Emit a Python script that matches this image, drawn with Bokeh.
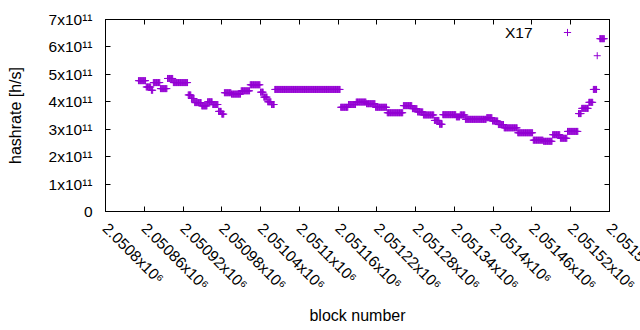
import numpy as np
from bokeh.plotting import figure
from bokeh.models import (Range1d, FixedTicker, LinearAxis, Label, Legend,
                          LegendItem, CustomJSTickFormatter)
from bokeh.embed import file_html
from bokeh.resources import INLINE

# ---- data: runs of blocks sharing one hashrate estimate (value in units of 1e11 h/s)
run_first = [2050851, 2050863, 2050871, 2050874, 2050885, 2050896, 2050905, 2050928, 2050933,
             2050938, 2050949, 2050958, 2050966, 2050975, 2050980, 2050984, 2050995, 2051010,
             2051024, 2051040, 2051045, 2051051, 2051057, 2051062, 2051164, 2051176, 2051188,
             2051204, 2051218, 2051236, 2051261, 2051275, 2051283, 2051292, 2051309, 2051317,
             2051322, 2051343, 2051349, 2051357, 2051390, 2051399, 2051408, 2051417, 2051438,
             2051462, 2051478, 2051492, 2051504, 2051515, 2051532, 2051537, 2051548, 2051555,
             2051561, 2051565]
run_last = [2050862, 2050870, 2050873, 2050884, 2050895, 2050904, 2050927, 2050932, 2050937,
            2050948, 2050957, 2050965, 2050974, 2050979, 2050983, 2050994, 2051009, 2051023,
            2051039, 2051044, 2051050, 2051056, 2051061, 2051163, 2051175, 2051187, 2051203,
            2051217, 2051235, 2051260, 2051274, 2051282, 2051291, 2051308, 2051316, 2051321,
            2051342, 2051348, 2051356, 2051389, 2051398, 2051407, 2051416, 2051437, 2051461,
            2051477, 2051491, 2051503, 2051514, 2051531, 2051536, 2051547, 2051554, 2051560,
            2051561, 2051572]
run_value = [4.77, 4.54, 4.42, 4.70, 4.48, 4.85, 4.70, 4.25, 4.12,
             3.97, 3.85, 4.00, 3.90, 3.65, 3.55, 4.33, 4.28, 4.40,
             4.62, 4.35, 4.17, 4.00, 3.90, 4.45, 3.80, 3.90, 3.99,
             3.93, 3.80, 3.60, 3.86, 3.75, 3.63, 3.52, 3.32, 3.18,
             3.53, 3.45, 3.52, 3.36, 3.42, 3.30, 3.17, 3.05, 2.87,
             2.60, 2.56, 2.80, 2.67, 2.92, 3.57, 3.76, 3.98, 4.45,
             5.68, 6.30]
series_name = "X17"

x_ticks = [2050800, 2050860, 2050920, 2050980, 2051040, 2051100, 2051160,
           2051220, 2051280, 2051340, 2051400, 2051460, 2051520, 2051580]
x_tick_labels = ["2.0508x10⁶", "2.05086x10⁶", "2.05092x10⁶", "2.05098x10⁶", "2.05104x10⁶",
                 "2.0511x10⁶", "2.05116x10⁶", "2.05122x10⁶", "2.05128x10⁶", "2.05134x10⁶",
                 "2.0514x10⁶", "2.05146x10⁶", "2.05152x10⁶", "2.05158x10⁶"]
y_ticks = [0, 1e11, 2e11, 3e11, 4e11, 5e11, 6e11, 7e11]
y_tick_labels = ["0", "1x10¹¹", "2x10¹¹", "3x10¹¹", "4x10¹¹", "5x10¹¹", "6x10¹¹", "7x10¹¹"]
x_title = "block number"
y_title = "hashrate [h/s]"

# ---- build per-block series
blocks = np.concatenate([np.arange(f, l + 1) for f, l in zip(run_first, run_last)])
values = np.concatenate([np.full(l - f + 1, v * 1e11)
                         for f, l, v in zip(run_first, run_last, run_value)])

FONT = "Liberation Sans"
FS = "15.5px"
TFS = "16px"
COLOR = "#9400D3"

xr = Range1d(x_ticks[0], x_ticks[-1])
yr = Range1d(y_ticks[0], y_ticks[-1])

# canvas extends past the window on the right so the last tick label runs off the edge
p = figure(frame_width=504, frame_height=192, x_range=xr, y_range=yr,
           output_backend="svg", toolbar_location=None,
           min_border_left=105, min_border_right=91, min_border_top=19, min_border_bottom=119,
           x_axis_type=None, y_axis_type=None)
p.outline_line_color = "black"
p.outline_line_width = 1
p.background_fill_color = "white"
p.border_fill_color = "white"

LOOKUP = """
let best = -1, bd = Infinity;
for (let i = 0; i < tvals.length; i++) {
  const d = Math.abs(tvals[i] - tick);
  if (d < bd) { bd = d; best = i; }
}
return (best >= 0 && bd <= tol) ? tlabels[best] : '';
"""
xfmt = CustomJSTickFormatter(args=dict(tvals=x_ticks, tlabels=x_tick_labels, tol=1.0), code=LOOKUP)
yfmt = CustomJSTickFormatter(args=dict(tvals=y_ticks, tlabels=y_tick_labels, tol=1e6), code=LOOKUP)
blank = CustomJSTickFormatter(code="return ''")

def make_axis(ticks, fmt, **kw):
    props = dict(ticker=FixedTicker(ticks=ticks), formatter=fmt,
                 major_tick_in=5, major_tick_out=0, minor_tick_line_color=None,
                 axis_line_color="black", major_tick_line_color="black",
                 major_label_text_font=FONT, major_label_text_font_size=FS,
                 major_label_text_color="black",
                 axis_label_text_font=FONT, axis_label_text_font_size=TFS,
                 axis_label_text_font_style="normal", axis_label_text_color="black")
    props.update(kw)
    return LinearAxis(**props)

xax = make_axis(x_ticks, xfmt, axis_label=x_title, major_label_standoff=14,
                major_label_orientation=-np.pi / 4, axis_label_standoff=5)
yax = make_axis(y_ticks, yfmt, axis_label=y_title, major_label_standoff=13,
                axis_label_standoff=22)
p.add_layout(xax, "below")
p.add_layout(yax, "left")
p.add_layout(make_axis(x_ticks, blank, major_label_text_font_size="1px",
                       major_label_standoff=0), "above")
p.add_layout(make_axis(y_ticks, blank, major_label_text_font_size="1px",
                       major_label_standoff=0), "right")

r = p.scatter(blocks, values, marker="cross", size=7, line_color=COLOR, line_width=1)

# legend: sample glyph, with the series text placed to its left (gnuplot style)
leg = Legend(items=[LegendItem(label=" ", renderers=[r])], location=(453, 170),
             glyph_width=18, glyph_height=18, padding=0, margin=0, spacing=0,
             label_standoff=0, label_width=0, label_height=0,
             border_line_color=None, background_fill_alpha=0, label_text_font_size="1px")
p.add_layout(leg)
p.add_layout(Label(x=xr.end, y=yr.end, x_offset=-77, y_offset=-13, text=series_name,
                   text_align="right", text_baseline="middle", text_font=FONT,
                   text_font_size=FS, text_color="black"))

open("out.html", "w").write(file_html(p, INLINE))
